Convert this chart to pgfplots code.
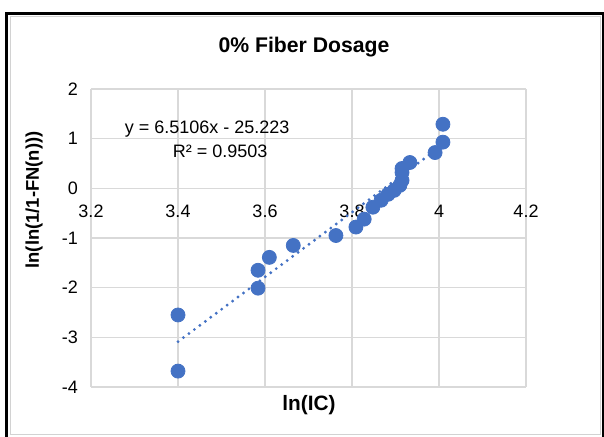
\documentclass[border=0pt]{standalone}
\usepackage{pgfplots}
\pgfplotsset{compat=1.18}
\usepackage{fontspec}
\setmainfont{Liberation Sans}
\definecolor{xblue}{RGB}{68,114,196}
\definecolor{gridgray}{RGB}{217,217,217}
\begin{document}
\begin{tikzpicture}[x=0.5pt,y=0.5pt]
\useasboundingbox (0,0) rectangle (604,437);
\draw[black, line width=1.5pt] (6.5,-10) -- (6.5,423.5) -- (603,423.5) -- (603,-10);
\draw[gray!35, line width=0.5pt] (10.5,2) rectangle (600,420);
\begin{axis}[
  at={(45.5pt,25pt)}, anchor=south west,
  scale only axis, width=217.5pt, height=149pt,
  xmin=3.2, xmax=4.2, ymin=-4, ymax=2,
  axis x line=middle, axis y line=left,
  hide obscured x ticks=false, hide obscured y ticks=false,
  axis line style={draw=none},
  xtick={3.2,3.4,3.6,3.8,4,4.2},
  xticklabels={3.2,3.4,3.6,3.8,4,4.2},
  ytick={-4,-3,-2,-1,0,1,2},
  yticklabels={-4,-3,-2,-1,0,1,2},
  major tick length=0pt,
  grid=major,
  major grid style={draw=gridgray, line width=0.75pt},
  tick label style={font=\fontsize{9}{10}\selectfont},
  xticklabel style={yshift=-5pt},
  yticklabel style={xshift=-3pt},
  clip=false,
]
\addplot[only marks, mark=*, mark size=3.5pt, mark options={fill=xblue, draw=xblue}] coordinates {
(3.400,-2.55)
(3.400,-3.68)
(3.584,-2.01)
(3.584,-1.65)
(3.610,-1.39)
(3.665,-1.15)
(3.763,-0.95)
(3.809,-0.78)
(3.828,-0.62)
(3.848,-0.38)
(3.867,-0.24)
(3.883,-0.12)
(3.897,-0.04)
(3.910,0.06)
(3.915,0.16)
(3.915,0.32)
(3.915,0.40)
(3.933,0.52)
(3.991,0.72)
(4.009,0.93)
(4.009,1.29)
};
\addplot[xblue, line width=1.6pt, line cap=round, dash pattern=on 0pt off 3.4pt] coordinates {(3.4,-3.087) (4.009,0.878)};
\node[font=\fontsize{9}{10}\selectfont] at (axis cs:3.467,1.2) {y = 6.5106x - 25.223};
\node[font=\fontsize{9}{10}\selectfont] at (axis cs:3.497,0.74) {R² = 0.9503};
\end{axis}
\node[font=\bfseries\fontsize{10.6}{12}\selectfont] at (304,390) {0\% Fiber Dosage};
\node[font=\bfseries\fontsize{10.4}{12}\selectfont] at (309,32) {ln(IC)};
\node[font=\bfseries\fontsize{9.2}{11}\selectfont, rotate=90] at (34,237) {ln(ln(1/1-FN(n)))};
\end{tikzpicture}
\end{document}
